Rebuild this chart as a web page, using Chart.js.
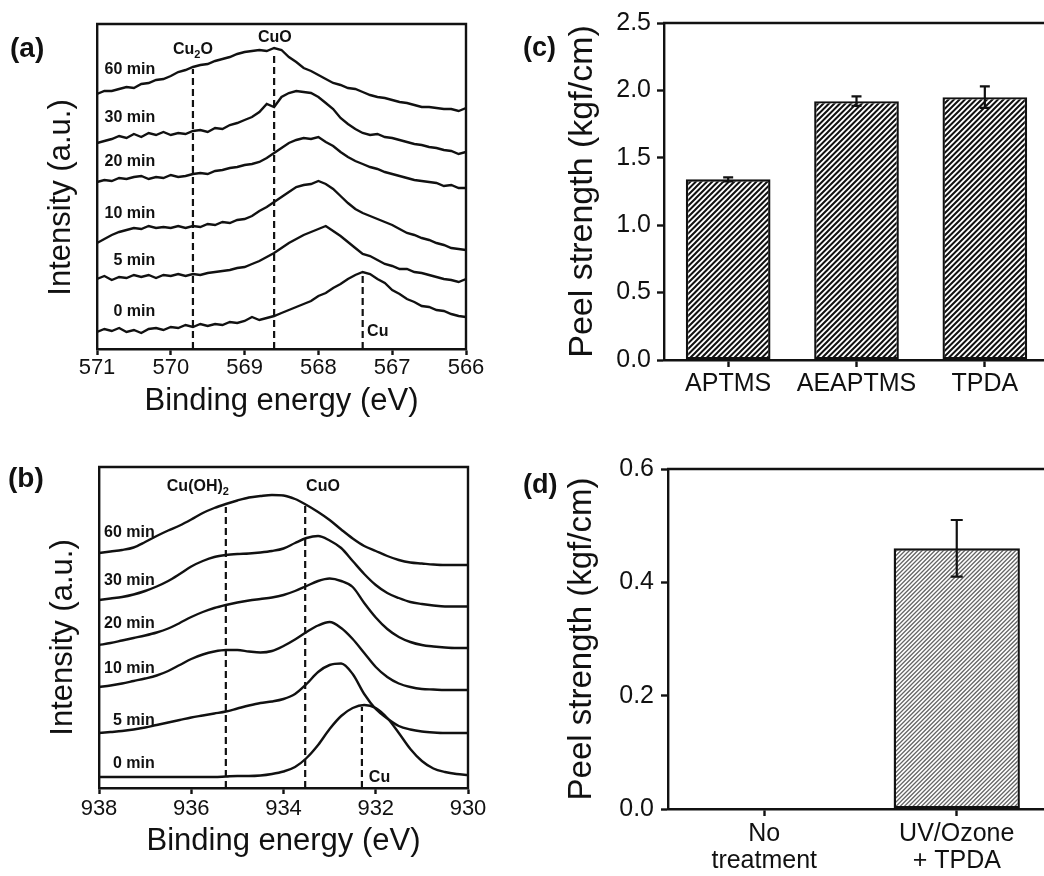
<!DOCTYPE html>
<html lang="en">
<head>
<meta charset="UTF-8">
<title>XPS Cu 2p / Cu LMM and peel strength</title>
<script src="https://cdn.jsdelivr.net/npm/chart.js"></script>
<style>
  html, body { margin: 0; padding: 0; background: #fff; overflow: hidden; }
  body { width: 1044px; height: 876px; position: relative; }
  canvas { position: absolute; }
  #chartA { left: 0; top: 0; }
  #chartB { left: 0; top: 430px; }
  #chartC { left: 520px; top: 0; }
  #chartD { left: 520px; top: 430px; }
</style>
</head>
<body>
<canvas id="chartA" width="520" height="430"></canvas>
<canvas id="chartB" width="520" height="446"></canvas>
<canvas id="chartC" width="540" height="430"></canvas>
<canvas id="chartD" width="540" height="446"></canvas>
<script>
// ---- data ----
// (a) Cu LMM region, intensity in arbitrary units (offset spectra)
const energyA = [571.0, 570.9, 570.8, 570.7, 570.6, 570.5, 570.4, 570.3, 570.2, 570.1,
  570.0, 569.9, 569.8, 569.7, 569.6, 569.5, 569.4, 569.3, 569.2, 569.1,
  569.0, 568.9, 568.8, 568.7, 568.6, 568.5, 568.4, 568.3, 568.2, 568.1,
  568.0, 567.9, 567.8, 567.7, 567.6, 567.5, 567.4, 567.3, 567.2, 567.1,
  567.0, 566.9, 566.8, 566.7, 566.6, 566.5, 566.4, 566.3, 566.2, 566.1, 566.0];
const a0min = [17, 20, 18, 21, 17, 19, 16, 20, 21, 19, 22, 21, 24, 22, 25, 23, 25, 24, 27, 26,
  28, 32, 29, 31, 33, 36, 39, 42, 45, 48, 53, 56, 61, 65, 70, 74, 77, 75, 70, 66,
  59, 55, 50, 47, 43, 42, 39, 38, 35, 33, 32];
const a5min = [70, 73, 69, 72, 71, 74, 72, 74, 71, 74, 73, 75, 73, 75, 74, 76, 77, 78, 79, 81,
  82, 85, 88, 92, 96, 101, 106, 110, 114, 117, 120, 123, 118, 113, 107, 101, 95, 93, 89, 85,
  83, 80, 80, 77, 76, 74, 72, 70, 69, 67, 70];
const a10min = [106, 110, 114, 117, 119, 121, 120, 123, 121, 122, 121, 123, 121, 123, 122, 125, 124, 127, 126, 129,
  130, 133, 138, 142, 147, 152, 157, 162, 164, 165, 168, 165, 160, 153, 146, 140, 136, 133, 130, 127,
  124, 120, 116, 114, 111, 109, 106, 104, 101, 100, 99];
const a20min = [167, 169, 168, 171, 170, 172, 173, 170, 172, 171, 174, 172, 173, 175, 176, 175, 178, 179, 181, 182,
  184, 185, 187, 191, 196, 201, 206, 209, 211, 210, 212, 207, 203, 197, 192, 188, 185, 182, 180, 177,
  175, 173, 171, 169, 168, 167, 166, 163, 164, 161, 161];
const a30min = [206, 208, 210, 213, 211, 215, 212, 216, 214, 217, 214, 216, 215, 218, 219, 217, 221, 220, 224, 226,
  229, 232, 237, 245, 242, 252, 256, 258, 257, 256, 252, 246, 240, 231, 225, 220, 216, 214, 215, 212,
  211, 209, 207, 205, 204, 202, 201, 199, 198, 195, 197];
const a60min = [255, 258, 258, 260, 262, 261, 265, 266, 269, 270, 273, 277, 279, 282, 284, 285, 288, 290, 292, 295,
  297, 298, 299, 298, 301, 299, 292, 287, 281, 278, 274, 270, 266, 264, 261, 260, 257, 254, 252, 251,
  249, 247, 246, 244, 242, 242, 241, 240, 240, 238, 241];
const ticksA = [571, 570, 569, 568, 567, 566];
const peaksA = [569.7, 568.6, 567.4];          // Cu2O, CuO, Cu
const peakTopsA = [280, 297, 74];

// (b) Cu 2p3/2 region
const energyB = [938, 937.75, 937.5, 937.25, 937, 936.75, 936.5, 936.25, 936, 935.75, 935.5,
  935.25, 935, 934.75, 934.5, 934.25, 934, 933.75, 933.5, 933.25, 933, 932.75,
  932.5, 932.25, 932, 931.75, 931.5, 931.25, 931, 930.75, 930.5, 930.25, 930];
const b0min = [11, 11, 11, 11, 11, 11, 11, 11, 11, 11, 11, 11.5, 12, 12, 12.5, 14, 16.5, 21, 30, 43,
  59, 72, 80, 83, 80, 70, 55, 39, 27, 19.5, 16, 14, 13];
const b5min = [55, 56, 57, 58.5, 60.5, 63, 65.5, 68, 70.5, 72.5, 74.5, 76.5, 79.5, 82.5, 85, 86.5, 89, 94, 104, 116,
  123, 124.5, 114, 94, 79, 69.5, 62, 58.5, 56.5, 55.5, 55, 55, 55];
const b10min = [101, 102.5, 104.5, 107, 109.5, 112.5, 117, 123, 129, 133.5, 136.5, 138, 138, 136.5, 135.5, 137, 142, 148.5, 156, 162.5,
  166, 160, 149, 135, 121, 111, 104.5, 101, 99, 98.5, 98, 98, 98];
const b20min = [143, 145, 147.5, 150, 152.5, 155.5, 159.5, 165, 171, 176, 180, 183, 185.5, 187.5, 189, 190.5, 193, 197, 202, 207,
  209.5, 207, 201, 185, 170.5, 159, 151, 146, 143, 141.5, 140.5, 140, 140];
const b30min = [188, 189.5, 191, 193.5, 197, 201.5, 207, 214, 221.5, 227, 231, 233, 234, 234.5, 235.5, 237, 239.5, 245, 250, 252,
  247.5, 240, 227, 214, 203, 195, 190, 186, 184, 182.5, 181.5, 181.5, 181.5];
const b60min = [235, 236.5, 238, 240.5, 246, 252, 257.5, 262.5, 268.5, 275, 280, 284, 287.5, 290.5, 292, 293, 292.5, 289, 283, 276,
  268, 258.5, 249.5, 242, 237, 232, 228, 225.5, 224.5, 223.5, 223, 223, 223];
const ticksB = [938, 936, 934, 932, 930];
const peaksB = [935.25, 933.53, 932.3];        // Cu(OH)2, CuO, Cu
const peakTopsB = [281, 283, 81];

// (c) silane coupling agents
const silanes = ['APTMS', 'AEAPTMS', 'TPDA'];
const peelSilane = [1.34, 1.92, 1.95];
const peelSilaneErr = [0.015, 0.035, 0.08];
const ticksC = [0, 0.5, 1.0, 1.5, 2.0, 2.5];

// (d) surface treatment
const treatments = [['No', 'treatment'], ['UV/Ozone', '+ TPDA']];
const peelTreat = [0, 0.46];
const peelTreatErr = [0, 0.05];
const ticksD = [0, 0.2, 0.4, 0.6];

// ---- styling helpers ----
const FONT = "'Liberation Sans', Arial, sans-serif";
const INK = '#111';
const LINE = 2.4;
Chart.defaults.font.family = FONT;
Chart.defaults.color = INK;

const tickGrid = len => ({ display: true, drawOnChartArea: false, drawTicks: true,
  tickLength: len, tickWidth: LINE, tickColor: INK });
const axisBorder = { display: true, color: INK, width: LINE };

// top + right edge of the plot frame
const framePlugin = {
  id: 'frame',
  afterDatasetsDraw(chart) {
    const { ctx, chartArea: a } = chart;
    ctx.save();
    ctx.strokeStyle = INK;
    ctx.lineWidth = LINE;
    ctx.beginPath();
    ctx.moveTo(a.left - 1, a.top);
    ctx.lineTo(a.right, a.top);
    ctx.lineTo(a.right, a.bottom + 1);
    ctx.stroke();
    ctx.restore();
  }
};

// text labels; inData=true places them through the chart scales
function textPlugin(items) {
  return {
    id: 'texts',
    afterDraw(chart) {
      const ctx = chart.ctx;
      items.forEach(it => {
        let x = it.x, y = it.y;
        if (it.inData) {
          x = chart.scales.x.getPixelForValue(it.x);
          y = chart.scales.y.getPixelForValue(it.y);
        }
        const parts = typeof it.text === 'string' ? [{ t: it.text }] : it.text;
        const weight = it.bold ? 'bold ' : '';
        const mainFont = weight + it.size + 'px ' + FONT;
        const subFont = weight + Math.round(it.size * 0.68) + 'px ' + FONT;
        ctx.save();
        ctx.translate(x, y);
        if (it.rotate) ctx.rotate(it.rotate);
        ctx.fillStyle = INK;
        ctx.textBaseline = 'middle';
        ctx.textAlign = 'left';
        let total = 0;
        parts.forEach(p => {
          ctx.font = p.sub ? subFont : mainFont;
          p.w = ctx.measureText(p.t).width;
          total += p.w;
        });
        let cx = it.align === 'right' ? -total : it.align === 'center' ? -total / 2 : 0;
        parts.forEach(p => {
          ctx.font = p.sub ? subFont : mainFont;
          ctx.fillText(p.t, cx, p.sub ? it.size * 0.32 : 0);
          cx += p.w;
        });
        ctx.restore();
      });
    }
  };
}

function errorBarPlugin(errors, cap) {
  return {
    id: 'errorBars',
    afterDatasetsDraw(chart) {
      const ctx = chart.ctx;
      const yScale = chart.scales.y;
      const values = chart.data.datasets[0].data;
      chart.getDatasetMeta(0).data.forEach((bar, i) => {
        const err = errors[i];
        if (!err) return;
        const top = yScale.getPixelForValue(values[i] + err);
        const bottom = yScale.getPixelForValue(values[i] - err);
        ctx.save();
        ctx.strokeStyle = INK;
        ctx.lineWidth = 2.2;
        ctx.beginPath();
        ctx.moveTo(bar.x, top); ctx.lineTo(bar.x, bottom);
        ctx.moveTo(bar.x - cap / 2, top); ctx.lineTo(bar.x + cap / 2, top);
        ctx.moveTo(bar.x - cap / 2, bottom); ctx.lineTo(bar.x + cap / 2, bottom);
        ctx.stroke();
        ctx.restore();
      });
    }
  };
}

// diagonal "////" hatch fill
function hatch(color, spacing, count, width) {
  const size = Math.round(spacing * count);
  const tile = document.createElement('canvas');
  tile.width = tile.height = size;
  const g = tile.getContext('2d');
  g.fillStyle = '#fff';
  g.fillRect(0, 0, size, size);
  g.strokeStyle = color;
  g.lineWidth = width;
  g.beginPath();
  for (let c = -spacing; c <= 2 * size + spacing; c += spacing) {
    g.moveTo(c + 2, -2);
    g.lineTo(c - size - 2, size + 2);
  }
  g.stroke();
  return g.createPattern(tile, 'repeat');
}

function spectrum(xs, ys) {
  return xs.map((x, i) => ({ x, y: ys[i] }));
}

function xpsDatasets(xs, series, peaks, tops, tension) {
  const lines = series.map(ys => ({
    data: spectrum(xs, ys), borderColor: INK, borderWidth: LINE, pointRadius: 0,
    tension, cubicInterpolationMode: tension ? 'monotone' : 'default'
  }));
  const refs = peaks.map((e, i) => ({
    data: [{ x: e, y: 0 }, { x: e, y: tops[i] }], borderColor: INK, borderWidth: 2.2,
    borderDash: [7, 4], pointRadius: 0
  }));
  return lines.concat(refs);
}

function xpsOptions(o) {
  return {
    responsive: false,
    animation: false,
    events: [],
    layout: { padding: o.padding },
    plugins: { legend: { display: false }, tooltip: { enabled: false } },
    scales: {
      x: {
        type: 'linear', min: o.min, max: o.max, reverse: true,
        afterBuildTicks: s => { s.ticks = o.ticks.map(v => ({ value: v })); },
        afterFit: s => { s.height = o.xHeight; },
        grid: tickGrid(6),
        border: axisBorder,
        ticks: { font: { size: 22 }, color: INK, padding: o.tickPad, maxRotation: 0, autoSkip: false },
        title: { display: true, text: 'Binding energy (eV)', color: INK,
          font: { size: 31 }, padding: { top: 0, bottom: o.titlePad } }
      },
      y: {
        type: 'linear', min: 0, max: o.yMax,
        afterFit: s => { s.width = o.yWidth; },
        grid: { display: false },
        ticks: { display: false },
        border: axisBorder
      }
    }
  };
}

// ---- (a) ----
new Chart(document.getElementById('chartA'), {
  type: 'line',
  data: { datasets: xpsDatasets(energyA, [a0min, a5min, a10min, a20min, a30min, a60min], peaksA, peakTopsA, 0) },
  options: xpsOptions({ padding: { left: 0, top: 24, right: 54, bottom: 0 }, min: 566, max: 571,
    ticks: ticksA, xHeight: 81, yWidth: 97, yMax: 325, titlePad: 10, tickPad: 0 }),
  plugins: [framePlugin, textPlugin([
    { text: '(a)', x: 10, y: 49.5, size: 28, bold: true },
    { text: 'Intensity (a.u.)', x: 61.5, y: 197.5, size: 31, align: 'center', rotate: -Math.PI / 2 },
    { text: '60 min', x: 570.21, y: 279, inData: true, size: 16, bold: true, align: 'right' },
    { text: '30 min', x: 570.21, y: 231, inData: true, size: 16, bold: true, align: 'right' },
    { text: '20 min', x: 570.21, y: 187, inData: true, size: 16, bold: true, align: 'right' },
    { text: '10 min', x: 570.21, y: 135, inData: true, size: 16, bold: true, align: 'right' },
    { text: '5 min', x: 570.21, y: 88, inData: true, size: 16, bold: true, align: 'right' },
    { text: '0 min', x: 570.21, y: 37, inData: true, size: 16, bold: true, align: 'right' },
    { text: [{ t: 'Cu' }, { t: '2', sub: true }, { t: 'O' }], x: 569.97, y: 299, inData: true, size: 16, bold: true },
    { text: 'CuO', x: 568.59, y: 311.5, inData: true, size: 16, bold: true, align: 'center' },
    { text: 'Cu', x: 567.34, y: 17, inData: true, size: 16, bold: true }
  ])]
});

// ---- (b) ----
new Chart(document.getElementById('chartB'), {
  type: 'line',
  data: { datasets: xpsDatasets(energyB, [b0min, b5min, b10min, b20min, b30min, b60min], peaksB, peakTopsB, 0.4) },
  options: xpsOptions({ padding: { left: 0, top: 37, right: 52, bottom: 0 }, min: 930, max: 938,
    ticks: ticksB, xHeight: 88, yWidth: 99, yMax: 321, titlePad: 16, tickPad: 2 }),
  plugins: [framePlugin, textPlugin([
    { text: '(b)', x: 8, y: 49.5, size: 28, bold: true },
    { text: 'Intensity (a.u.)', x: 63, y: 207.5, size: 31, align: 'center', rotate: -Math.PI / 2 },
    { text: '60 min', x: 936.79, y: 255, inData: true, size: 16, bold: true, align: 'right' },
    { text: '30 min', x: 936.79, y: 207, inData: true, size: 16, bold: true, align: 'right' },
    { text: '20 min', x: 936.79, y: 164, inData: true, size: 16, bold: true, align: 'right' },
    { text: '10 min', x: 936.79, y: 119, inData: true, size: 16, bold: true, align: 'right' },
    { text: '5 min', x: 936.79, y: 67, inData: true, size: 16, bold: true, align: 'right' },
    { text: '0 min', x: 936.79, y: 24, inData: true, size: 16, bold: true, align: 'right' },
    { text: [{ t: 'Cu(OH)' }, { t: '2', sub: true }], x: 936.53, y: 301, inData: true, size: 16, bold: true },
    { text: 'CuO', x: 933.51, y: 301, inData: true, size: 16, bold: true },
    { text: 'Cu', x: 932.15, y: 10, inData: true, size: 16, bold: true }
  ])]
});

function barOptions(o) {
  return {
    responsive: false,
    animation: false,
    events: [],
    layout: { padding: o.padding },
    plugins: { legend: { display: false }, tooltip: { enabled: false } },
    scales: {
      x: {
        offset: true,
        afterFit: s => { s.height = o.xHeight; },
        grid: Object.assign(tickGrid(7), { offset: false }),
        border: axisBorder,
        ticks: { font: { size: 25, lineHeight: 1.1 }, color: INK, padding: o.xPad, maxRotation: 0, autoSkip: false }
      },
      y: {
        min: 0, max: o.yMax,
        afterBuildTicks: s => { s.ticks = o.ticks.map(v => ({ value: v })); },
        afterFit: s => { s.width = o.yWidth; },
        grid: tickGrid(7),
        border: axisBorder,
        ticks: { font: { size: 25 }, color: INK, padding: o.yPad, callback: v => Number(v).toFixed(1) },
        title: { display: true, text: 'Peel strength (kgf/cm)', color: INK,
          font: { size: o.titleSize }, padding: { top: 42, bottom: 0 } }
      }
    }
  };
}

// ---- (c) ----
new Chart(document.getElementById('chartC'), {
  type: 'bar',
  data: {
    labels: silanes,
    datasets: [{ data: peelSilane, backgroundColor: hatch(INK, 5.5, 2, 2), borderColor: INK,
      borderWidth: LINE, borderSkipped: false, barPercentage: 0.66, categoryPercentage: 1 }]
  },
  options: barOptions({ padding: { left: 0, top: 23, right: 11, bottom: 0 }, xHeight: 70, yWidth: 144,
    yMax: 2.5, ticks: ticksC, xPad: 3, yPad: 6, titleSize: 34 }),
  plugins: [framePlugin, errorBarPlugin(peelSilaneErr, 10), textPlugin([
    { text: '(c)', x: 3, y: 48.5, size: 27, bold: true }
  ])]
});

// ---- (d) ----
new Chart(document.getElementById('chartD'), {
  type: 'bar',
  data: {
    labels: treatments,
    datasets: [{ data: peelTreat, backgroundColor: hatch('#666', 4.25, 4, 1.3), borderColor: INK,
      borderWidth: LINE, borderSkipped: false, barPercentage: 0.656, categoryPercentage: 1 }]
  },
  options: barOptions({ padding: { left: 0, top: 39, right: 7, bottom: 0 }, xHeight: 67, yWidth: 148,
    yMax: 0.6, ticks: ticksD, xPad: 4, yPad: 7, titleSize: 33 }),
  plugins: [framePlugin, errorBarPlugin(peelTreatErr, 12), textPlugin([
    { text: '(d)', x: 3, y: 55.5, size: 27, bold: true }
  ])]
});
</script>
</body>
</html>
